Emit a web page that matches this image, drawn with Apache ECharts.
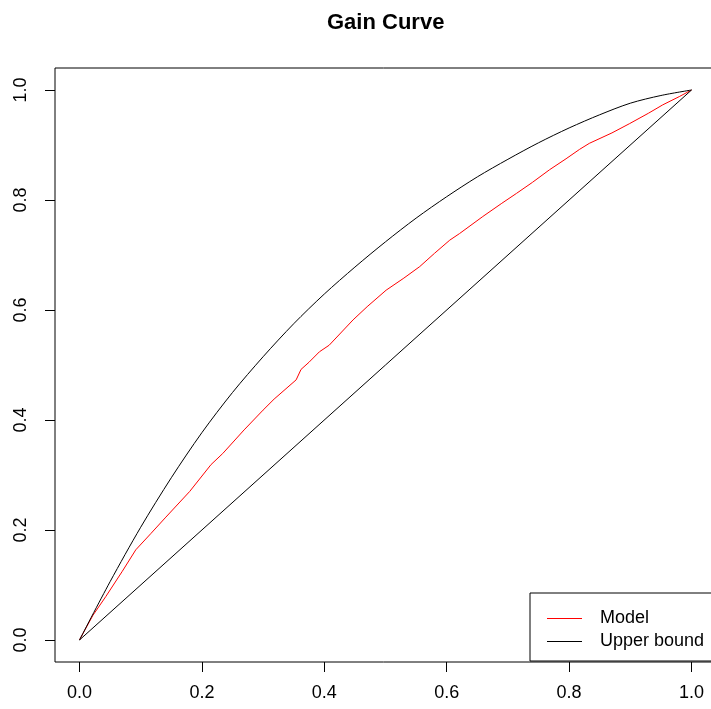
<!DOCTYPE html>
<html>
<head>
<meta charset="utf-8">
<script src="https://cdn.jsdelivr.net/npm/echarts@6/dist/echarts.min.js"></script>
<style>
  html, body { margin: 0; padding: 0; background: #fff; }
  #chart { width: 711px; height: 709px; }
</style>
</head>
<body>
<div id="chart"></div>
<script>
// values
const tickValues = [0, 0.2, 0.4, 0.6, 0.8, 1.0]

const modelX = [0, 0.022, 0.043, 0.07, 0.092, 0.117, 0.14, 0.18, 0.215, 0.234, 0.269, 0.3, 0.318, 0.354, 0.362, 0.375, 0.392, 0.408, 0.447, 0.47, 0.501, 0.53, 0.556, 0.58, 0.605, 0.621, 0.659, 0.69, 0.714, 0.74, 0.768, 0.795, 0.817, 0.833, 0.87, 0.899, 0.93, 0.953, 0.98, 1.0]
const modelY = [0, 0.045, 0.079, 0.125, 0.164, 0.194, 0.222, 0.27, 0.319, 0.339, 0.382, 0.418, 0.438, 0.473, 0.492, 0.505, 0.524, 0.536, 0.582, 0.606, 0.636, 0.658, 0.679, 0.703, 0.727, 0.739, 0.77, 0.794, 0.812, 0.832, 0.855, 0.875, 0.892, 0.903, 0.922, 0.939, 0.958, 0.973, 0.988, 1.0]

const upperX = [0, 0.05, 0.1, 0.15, 0.2, 0.25, 0.3, 0.35, 0.4, 0.45, 0.5, 0.55, 0.6, 0.65, 0.7, 0.75, 0.8, 0.85, 0.9, 0.95, 1.0]
const upperY = [0, 0.106, 0.205, 0.295, 0.377, 0.45, 0.515, 0.575, 0.629, 0.678, 0.724, 0.767, 0.806, 0.842, 0.874, 0.904, 0.931, 0.955, 0.976, 0.99, 1.0]

const diagX = [0, 1]
const diagY = [0, 1]

const pairs = (xs, ys) => xs.map((x, i) => [x, ys[i]])

const font = 'Liberation Sans, Arial, sans-serif'

const chart = echarts.init(document.getElementById('chart'))

const axisCommon = {
  type: 'value',
  min: -0.04,
  max: 1.04,
  axisLine: { show: false, onZero: false },
  splitLine: { show: false },
  axisTick: {
    show: true,
    length: 10,
    customValues: tickValues,
    lineStyle: { color: '#000', width: 1 }
  }
}

chart.setOption({
  animation: false,
  title: {
    text: 'Gain Curve',
    left: 327,
    top: 12,
    padding: 0,
    textStyle: { fontFamily: font, fontSize: 22, fontWeight: 'bold', color: '#000' }
  },
  grid: {
    show: true,
    left: 55,
    top: 68,
    width: 661,
    height: 594,
    outerBoundsMode: 'none',
    containLabel: false,
    borderColor: '#000',
    borderWidth: 1,
    backgroundColor: 'transparent'
  },
  xAxis: {
    ...axisCommon,
    axisLabel: {
      customValues: tickValues,
      margin: 22,
      fontFamily: font,
      fontSize: 18,
      color: '#000',
      formatter: v => v.toFixed(1)
    }
  },
  yAxis: {
    ...axisCommon,
    axisLabel: {
      customValues: tickValues,
      rotate: 90,
      margin: 25,
      fontFamily: font,
      fontSize: 18,
      color: '#000',
      formatter: v => v.toFixed(1)
    }
  },
  legend: {
    data: ['Model', 'Upper bound'],
    orient: 'vertical',
    left: 530,
    top: 593,
    padding: [14, 12, 8, 17],
    itemGap: 0,
    itemWidth: 35,
    itemHeight: 1,
    icon: 'rect',
    borderColor: '#000',
    borderWidth: 1,
    backgroundColor: '#fff',
    textStyle: {
      fontFamily: font,
      fontSize: 18,
      color: '#000',
      lineHeight: 23,
      padding: [0, 0, 0, 13]
    }
  },
  series: [
    {
      name: 'Model',
      type: 'line',
      data: pairs(modelX, modelY),
      symbol: 'none',
      color: '#ff0000',
      lineStyle: { color: '#ff0000', width: 1 },
      z: 3
    },
    {
      name: 'Upper bound',
      type: 'line',
      data: pairs(upperX, upperY),
      smooth: 0.3,
      symbol: 'none',
      color: '#000',
      lineStyle: { color: '#000', width: 1 }
    },
    {
      name: 'Diagonal',
      type: 'line',
      data: pairs(diagX, diagY),
      symbol: 'none',
      color: '#000',
      lineStyle: { color: '#000', width: 1 }
    }
  ]
})
</script>
</body>
</html>
